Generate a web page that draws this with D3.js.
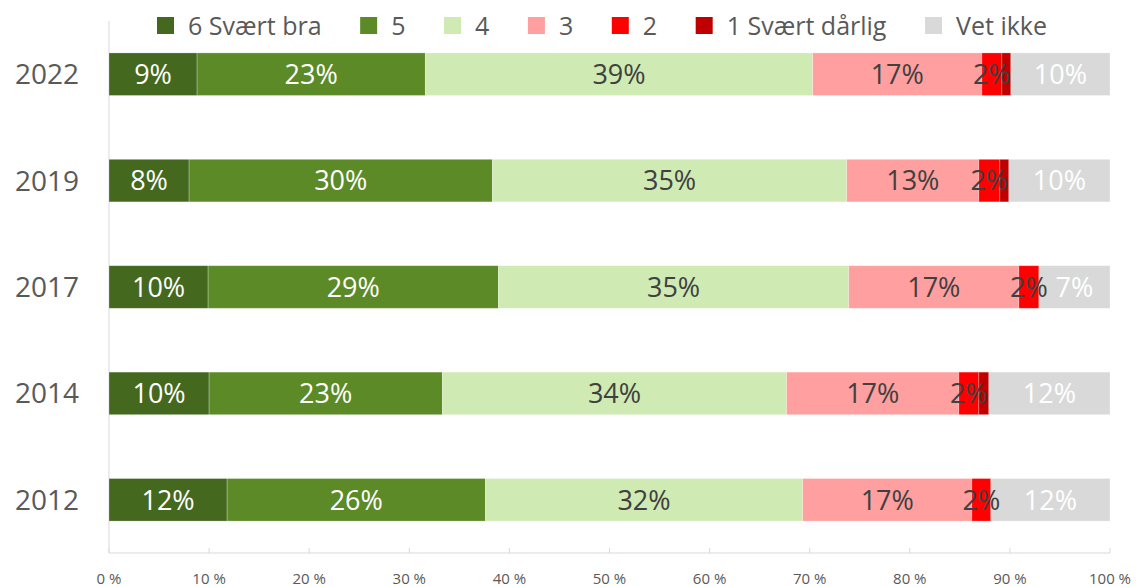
<!DOCTYPE html>
<html>
<head>
<meta charset="utf-8">
<script src="https://cdn.jsdelivr.net/npm/d3@7"></script>
<style>
  html, body { margin: 0; padding: 0; background: #fff; }
  svg { display: block; font-family: "Open Sans", "Noto Sans", sans-serif; }
</style>
</head>
<body>
<svg id="chart" width="1137" height="587"></svg>
<script>
// Survey years (top to bottom)
const years = ["2022", "2019", "2017", "2014", "2012"];

// Response categories, from best to worst, then "don't know"
const seriesNames = ["6 Svært bra", "5", "4", "3", "2", "1 Svært dårlig", "Vet ikke"];
const seriesColors = ["#43681E", "#5B8A26", "#CFEAB3", "#FF9F9F", "#FF0000", "#C00000", "#D9D9D9"];
const labelColors  = ["#FFFFFF", "#FFFFFF", "#404040", "#404040", "#404040", "#404040", "#FFFFFF"];

// Share of answers (%) per year, one array per category
const svaertBra    = [8.8, 8.0, 9.9, 10.0, 11.8];
const fem          = [22.8, 30.3, 29.0, 23.3, 25.8];
const fire         = [38.7, 35.4, 35.0, 34.4, 31.7];
const tre          = [16.9, 13.2, 17.0, 17.2, 16.9];
const to           = [2.0, 2.1, 2.0, 2.0, 1.9];
const svaertDarlig = [0.9, 0.9, 0.0, 1.0, 0.0];
const vetIkke      = [9.9, 10.1, 7.1, 12.1, 11.9];

// Axis tick values
const tickValues = [0, 10, 20, 30, 40, 50, 60, 70, 80, 90, 100];

const seriesValues = [svaertBra, fem, fire, tre, to, svaertDarlig, vetIkke];
const keys = seriesNames;
const rows = years.map((yr, i) => {
  const r = { year: yr };
  keys.forEach((k, j) => { r[k] = seriesValues[j][i]; });
  return r;
});
const stacked = d3.stack().keys(keys)(rows);

const svg = d3.select("#chart");
const plotLeft = 109, plotRight = 1110, plotTop = 21, plotBottom = 553;

const x = d3.scaleLinear().domain([0, 100]).range([plotLeft, plotRight]);
const y = d3.scaleBand().domain(years).range([plotTop, plotBottom]).paddingInner(0.6).paddingOuter(0.3);

// Bottom axis: baseline, inward ticks and percent labels
const axisG = svg.append("g").attr("transform", `translate(0,${plotBottom})`);
axisG.append("line")
  .attr("x1", plotLeft).attr("x2", plotRight).attr("y1", 0).attr("y2", 0)
  .attr("stroke", "#D9D9D9").attr("stroke-width", 1);
axisG.selectAll("line.tick").data(tickValues).join("line")
  .attr("class", "tick")
  .attr("x1", d => x(d)).attr("x2", d => x(d))
  .attr("y1", 0).attr("y2", -5)
  .attr("stroke", "#D9D9D9");
axisG.selectAll("text.tick").data(tickValues).join("text")
  .attr("class", "tick")
  .attr("x", d => x(d)).attr("y", 26)
  .attr("dy", "0.35em")
  .attr("text-anchor", "middle")
  .attr("fill", "#595959")
  .style("font-size", "15px")
  .text(d => d + " %");

// Vertical category axis line
svg.append("line")
  .attr("x1", plotLeft).attr("x2", plotLeft).attr("y1", plotTop).attr("y2", plotBottom)
  .attr("stroke", "#D9D9D9");

// Year labels
svg.selectAll("text.year").data(years).join("text")
  .attr("class", "year")
  .attr("x", 79)
  .attr("y", d => y(d) + y.bandwidth() / 2)
  .attr("dy", "0.36em")
  .attr("text-anchor", "end")
  .attr("fill", "#595959")
  .style("font-size", "28px")
  .text(d => d);

// Stacked bar segments
const layers = svg.selectAll("g.layer").data(stacked).join("g")
  .attr("class", "layer")
  .attr("fill", (d, i) => seriesColors[i]);

layers.selectAll("rect").data(d => d).join("rect")
  .attr("x", d => x(d[0]))
  .attr("y", d => y(d.data.year))
  .attr("width", d => Math.max(0, x(d[1]) - x(d[0])))
  .attr("height", y.bandwidth())
  .attr("stroke", "#FFFFFF")
  .attr("stroke-opacity", 0.35)
  .attr("stroke-width", 0.75);

// Value labels (small slivers left unlabelled)
stacked.forEach((layer, i) => {
  svg.append("g").selectAll("text").data(layer.filter(d => d[1] - d[0] >= 1.5)).join("text")
    .attr("x", d => (x(d[0]) + x(d[1])) / 2)
    .attr("y", d => y(d.data.year) + y.bandwidth() / 2)
    .attr("dy", "0.36em")
    .attr("text-anchor", "middle")
    .attr("fill", labelColors[i])
    .style("font-size", "27px")
    .text(d => Math.round(d[1] - d[0]) + "%");
});

// Legend across the top
const legend = svg.append("g");
const items = legend.selectAll("g").data(seriesNames).join("g");
items.append("rect")
  .attr("width", 17).attr("height", 17)
  .attr("y", 17)
  .attr("fill", (d, i) => seriesColors[i]);
items.append("text")
  .attr("x", 31).attr("y", 25.5)
  .attr("dy", "0.36em")
  .attr("fill", "#595959")
  .style("font-size", "25px")
  .text(d => d);

const legendStart = 157, legendEnd = 1047;
const widths = [];
items.each(function() { widths.push(31 + this.querySelector("text").getComputedTextLength()); });
const gap = (legendEnd - legendStart - d3.sum(widths)) / (widths.length - 1);
let cursorX = legendStart;
items.attr("transform", (d, i) => { const t = `translate(${cursorX},0)`; cursorX += widths[i] + gap; return t; });
</script>
</body>
</html>
